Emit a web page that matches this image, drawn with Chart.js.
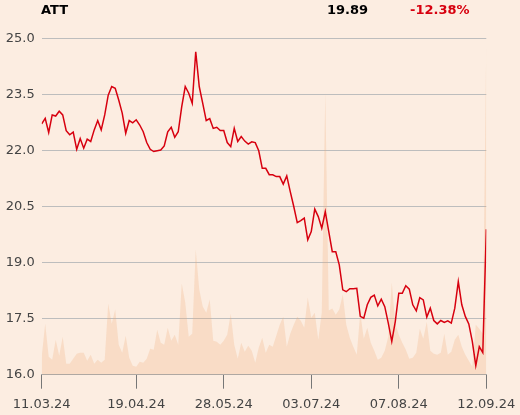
<!DOCTYPE html>
<html><head><meta charset="utf-8">
<script src="https://cdn.jsdelivr.net/npm/chart.js"></script>
<style>
html,body{margin:0;padding:0;background:#fcede1;}
#wrap{position:relative;width:520px;height:415px;overflow:hidden;}
canvas{position:absolute;left:0;top:0;}
.h{position:absolute;top:2px;font:bold 13px "DejaVu Sans";line-height:15px;white-space:nowrap;}
</style></head>
<body>
<div id="wrap">
<canvas id="c" width="520" height="415"></canvas>
<span class="h" style="left:41px;color:#000">ATT</span>
<span class="h" style="left:327px;color:#000">19.89</span>
<span class="h" style="left:410px;color:#d7000f">-12.38%</span>
</div>
<script>
const title = 'ATT';
const tickIdx = [0,27,52,77,102,127];
const tickLabels = ['11.03.24','19.04.24','28.05.24','03.07.24','07.08.24','12.09.24'];
const yTicks = [16.0,17.5,19.0,20.5,22.0,23.5,25.0];
const price = [22.71,22.86,22.48,22.95,22.92,23.05,22.95,22.53,22.42,22.49,
22.03,22.32,22.06,22.30,22.24,22.55,22.80,22.55,22.95,23.48,
23.71,23.66,23.35,23.00,22.46,22.80,22.74,22.82,22.68,22.50,
22.21,22.03,21.97,21.99,22.01,22.12,22.50,22.62,22.35,22.50,
23.17,23.71,23.53,23.26,24.64,23.71,23.26,22.80,22.85,22.59,
22.62,22.53,22.53,22.21,22.10,22.59,22.24,22.37,22.25,22.17,
22.23,22.21,21.99,21.52,21.52,21.35,21.35,21.30,21.30,21.10,
21.32,20.90,20.50,20.07,20.12,20.19,19.61,19.83,20.43,20.23,
19.92,20.36,19.83,19.29,19.29,18.94,18.27,18.22,18.30,18.30,
18.31,17.56,17.51,17.87,18.07,18.13,17.84,18.02,17.82,17.38,
16.89,17.42,18.18,18.18,18.38,18.29,17.87,17.71,18.06,18.00,
17.54,17.78,17.45,17.36,17.45,17.40,17.44,17.38,17.78,18.49,
17.87,17.56,17.36,16.89,16.24,16.75,16.59,19.89];
const volume = [18,51,18,15,35,19,38,11,11,16,
21,22,22,14,20,11,15,12,15,71,
51,65,30,22,39,17,9,8,13,12,
16,26,25,45,32,30,47,34,40,30,
91,72,38,41,125,85,68,62,75,34,
33,30,34,40,61,30,16,32,23,29,
24,12,27,37,22,30,28,39,50,58,
28,41,50,58,54,47,77,57,62,35,
62,282,64,66,60,65,80,50,37,28,
20,62,36,47,32,24,15,17,24,38,
92,51,40,32,25,16,17,22,46,36,
53,24,21,20,22,41,20,23,35,40,
28,20,14,8,50,46,41,335];

const font = {family:'"DejaVu Sans"', size:13};
new Chart(document.getElementById('c'), {
  type:'line',
  data:{
    datasets:[
      {label:title, data:price.map((v,i)=>({x:i,y:v})), borderColor:'#d7000f', borderWidth:1.5,
       pointRadius:0, tension:0, fill:false, yAxisID:'y', order:1},
      {label:'Volume', data:volume.map((v,i)=>({x:i,y:v})), borderWidth:0, borderColor:'rgba(0,0,0,0)',
       backgroundColor:'rgba(240,170,120,0.25)', pointRadius:0, tension:0, fill:'origin', yAxisID:'y2', order:2}
    ]
  },
  options:{
    responsive:false, animation:false, devicePixelRatio:1,
    layout:{padding:{top:38.3, right:33.7, left:0, bottom:0}},
    plugins:{legend:{display:false}, tooltip:{enabled:false}},
    scales:{
      x:{type:'linear', min:0, max:127,
        afterBuildTicks:s=>{s.ticks = tickIdx.map(v=>({value:v}));},
        afterFit:s=>{s.height = 40.3; s.paddingLeft = 0; s.paddingRight = 0;},
        ticks:{callback:v=>tickLabels[tickIdx.indexOf(v)], color:'#444', font, maxRotation:0, autoSkip:false, padding:8},
        grid:{drawOnChartArea:false, drawTicks:true, tickLength:14, color:'#777', lineWidth:1},
        border:{display:true, color:'#a8a8a8', width:1}},
      y:{position:'left', min:16, max:25,
        afterBuildTicks:s=>{s.ticks = yTicks.map(v=>({value:v}));},
        afterFit:s=>{s.width = 41.7;},
        ticks:{callback:v=>v.toFixed(1), color:'#444', font, padding:7},
        grid:{color:'#bdbdbd', drawTicks:false, lineWidth:1},
        border:{display:false}},
      y2:{display:false, min:0, max:336}
    }
  }
});
</script>
</body></html>
